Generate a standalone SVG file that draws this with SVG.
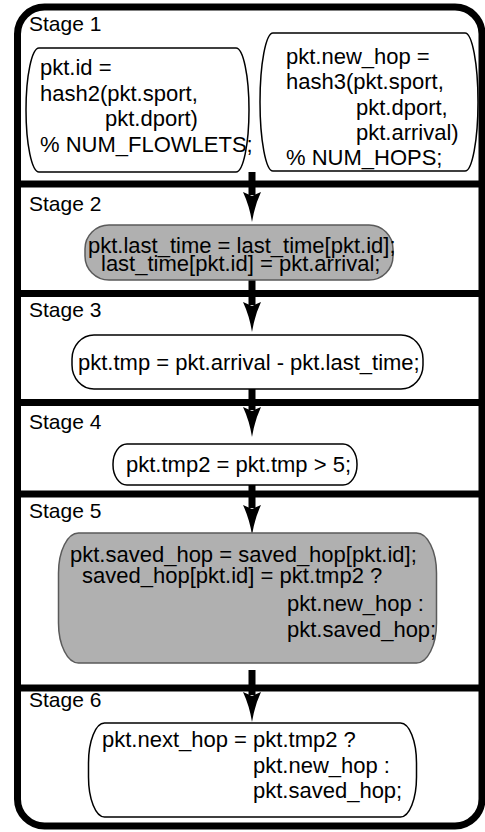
<svg xmlns="http://www.w3.org/2000/svg" width="485" height="832" viewBox="0 0 485 832">
<style>
.lbl{font-family:"Liberation Sans",Arial,sans-serif;font-size:21px;fill:#000}
.code{font-family:"Liberation Sans",Arial,sans-serif;font-size:22px;fill:#000}
.wn{fill:#fff;stroke:#000;stroke-width:1.5}
.gn{fill:#b0b0b0;stroke:#5a5a5a;stroke-width:1.5}
.frame{fill:none;stroke:#000;stroke-width:7}
.div{stroke:#000;stroke-width:7}
.conn{stroke:#000;stroke-width:7;fill:none;marker-end:url(#ah)}
</style>
<defs>
<marker id="ah" markerUnits="userSpaceOnUse" markerWidth="34" markerHeight="20" viewBox="0 0 34 20" refX="3" refY="10" orient="auto">
<path d="M0,1 Q14,7.5 30,10 Q14,12.5 0,19 L4,10 Z" fill="#000"/>
</marker>
</defs>
<rect width="485" height="832" fill="#fff"/>
<g id="frame">
<rect class="frame" x="17.5" y="7" width="464.5" height="819" rx="27" ry="27"/>
<line class="div" x1="17.5" y1="184" x2="485" y2="184"/>
<line class="div" x1="17.5" y1="293.5" x2="485" y2="293.5"/>
<line class="div" x1="17.5" y1="402.5" x2="485" y2="402.5"/>
<line class="div" x1="17.5" y1="494" x2="485" y2="494"/>
<line class="div" x1="17.5" y1="688" x2="485" y2="688"/>
</g>
<g id="labels">
<text class="lbl" x="29" y="31">Stage 1</text>
<text class="lbl" x="29" y="211">Stage 2</text>
<text class="lbl" x="29" y="317">Stage 3</text>
<text class="lbl" x="29" y="429">Stage 4</text>
<text class="lbl" x="29" y="518">Stage 5</text>
<text class="lbl" x="29" y="707">Stage 6</text>
</g>
<g id="connectors">
<line class="conn" x1="252" y1="172" x2="252" y2="195"/>
<line class="conn" x1="252" y1="280" x2="252" y2="305"/>
<line class="conn" x1="252" y1="389" x2="252" y2="410"/>
<line class="conn" x1="252" y1="485" x2="252" y2="508"/>
<line class="conn" x1="252" y1="670" x2="252" y2="695"/>
</g>
<g id="n1a">
<rect class="wn" x="26" y="48" width="223" height="124" rx="13" ry="62"/>
<text class="code" x="40" y="75">pkt.id =</text>
<text class="code" x="40" y="100.7">hash2(pkt.sport,</text>
<text class="code" x="105" y="126.4">pkt.dport)</text>
<text class="code" x="40" y="152">% NUM_FLOWLETS;</text>
</g>
<g id="n1b">
<rect class="wn" x="260" y="33" width="218" height="138" rx="13" ry="69"/>
<text class="code" x="286" y="64">pkt.new_hop =</text>
<text class="code" x="286" y="89.3">hash3(pkt.sport,</text>
<text class="code" x="356" y="114.6">pkt.dport,</text>
<text class="code" x="356" y="139.9">pkt.arrival)</text>
<text class="code" x="286" y="165.2">% NUM_HOPS;</text>
</g>
<g id="n2">
<rect class="gn" x="85" y="225" width="308" height="55" rx="24" ry="24"/>
<text class="code" x="88" y="253">pkt.last_time = last_time[pkt.id];</text>
<text class="code" x="101" y="270.5">last_time[pkt.id] = pkt.arrival;</text>
</g>
<g id="n3">
<rect class="wn" x="72" y="335" width="351" height="54" rx="22" ry="24"/>
<text class="code" x="78" y="370">pkt.tmp = pkt.arrival - pkt.last_time;</text>
</g>
<g id="n4">
<rect class="wn" x="113" y="444" width="244" height="41" rx="14" ry="20"/>
<text class="code" x="126" y="471.5">pkt.tmp2 = pkt.tmp &gt; 5;</text>
</g>
<g id="n5">
<rect class="gn" x="58.5" y="533" width="378" height="130" rx="20" ry="40"/>
<text class="code" x="70" y="561.5">pkt.saved_hop = saved_hop[pkt.id];</text>
<text class="code" x="82" y="583">saved_hop[pkt.id] = pkt.tmp2 ?</text>
<text class="code" x="287" y="611">pkt.new_hop :</text>
<text class="code" x="287" y="637">pkt.saved_hop;</text>
</g>
<g id="n6">
<rect class="wn" x="88.5" y="723" width="328" height="94" rx="16" ry="40"/>
<text class="code" x="102" y="747">pkt.next_hop = pkt.tmp2 ?</text>
<text class="code" x="253" y="772.5">pkt.new_hop :</text>
<text class="code" x="253" y="798">pkt.saved_hop;</text>
</g>
</svg>
